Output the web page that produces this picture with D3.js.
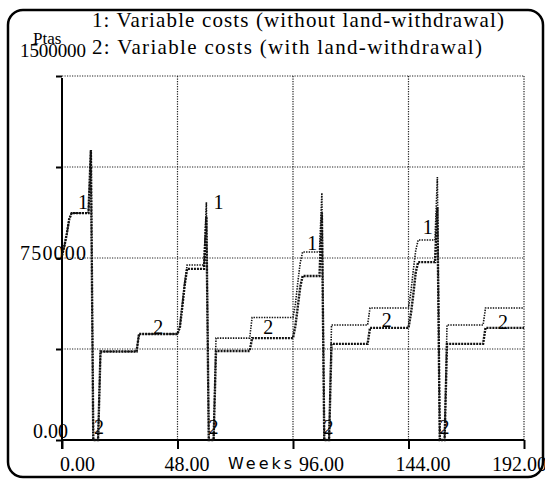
<!DOCTYPE html>
<html>
<head>
<meta charset="utf-8">
<script src="https://cdn.jsdelivr.net/npm/d3@7"></script>
<style>
  body { margin: 0; background: #fff; }
</style>
</head>
<body>
<div id="DataVis"></div>
<script>
// weeks 0..192, one value per week (Ptas)
var weeks = d3.range(0, 193);

var costsWithout = [
  760000, 800000, 850000, 910000, 935000,
  935000, 935000, 935000, 935000, 935000, 935000, 935000,
  1195000, 0, 0, 0,
  365000, 365000, 365000, 365000, 365000, 365000, 365000, 365000,
  365000, 365000, 365000, 365000, 365000, 365000, 365000, 365000,
  437000, 437000, 437000, 437000, 437000, 437000, 437000, 437000, 437000,
  437000, 437000, 437000, 437000, 437000, 437000, 437000, 437000,
  470000, 560000, 650000,
  721000, 721000, 721000, 721000, 721000, 721000, 721000, 721000,
  980000, 0, 0, 0,
  420000, 420000, 420000, 420000, 420000, 420000, 420000, 420000,
  420000, 420000, 420000, 420000, 420000, 420000, 420000,
  505000, 505000, 505000, 505000, 505000, 505000, 505000, 505000, 505000,
  505000, 505000, 505000, 505000, 505000, 505000, 505000, 505000, 505000,
  560000, 650000, 730000,
  775000, 775000, 775000, 775000, 775000, 775000, 775000, 775000,
  1018000, 0, 0, 0,
  474000, 474000, 474000, 474000, 474000, 474000, 474000, 474000,
  474000, 474000, 474000, 474000, 474000, 474000, 474000, 474000,
  544000, 544000, 544000, 544000, 544000, 544000, 544000, 544000, 544000,
  544000, 544000, 544000, 544000, 544000, 544000, 544000, 544000,
  610000, 700000, 780000,
  824000, 824000, 824000, 824000, 824000, 824000, 824000, 824000,
  1084000, 0, 0, 0,
  474000, 474000, 474000, 474000, 474000, 474000, 474000, 474000,
  474000, 474000, 474000, 474000, 474000, 474000, 474000, 474000,
  544000, 544000, 544000, 544000, 544000, 544000, 544000, 544000, 544000,
  544000, 544000, 544000, 544000, 544000, 544000, 544000, 544000
];

var costsWith = [
  760000, 800000, 850000, 910000, 935000,
  935000, 935000, 935000, 935000, 935000, 935000, 935000,
  1195000, 0, 0, 0,
  365000, 365000, 365000, 365000, 365000, 365000, 365000, 365000,
  365000, 365000, 365000, 365000, 365000, 365000, 365000, 365000,
  437000, 437000, 437000, 437000, 437000, 437000, 437000, 437000, 437000,
  437000, 437000, 437000, 437000, 437000, 437000, 437000, 437000,
  465000, 550000, 640000,
  705000, 705000, 705000, 705000, 705000, 705000, 705000, 705000,
  920000, 0, 0, 0,
  367000, 367000, 367000, 367000, 367000, 367000, 367000, 367000,
  367000, 367000, 367000, 367000, 367000, 367000, 367000,
  420000, 420000, 420000, 420000, 420000, 420000, 420000, 420000, 420000,
  420000, 420000, 420000, 420000, 420000, 420000, 420000, 420000, 420000,
  470000, 550000, 630000,
  676000, 676000, 676000, 676000, 676000, 676000, 676000, 676000,
  935000, 0, 0, 0,
  396000, 396000, 396000, 396000, 396000, 396000, 396000, 396000,
  396000, 396000, 396000, 396000, 396000, 396000, 396000, 396000,
  462000, 462000, 462000, 462000, 462000, 462000, 462000, 462000, 462000,
  462000, 462000, 462000, 462000, 462000, 462000, 462000, 462000,
  520000, 600000, 690000,
  733000, 733000, 733000, 733000, 733000, 733000, 733000, 733000,
  960000, 0, 0, 0,
  396000, 396000, 396000, 396000, 396000, 396000, 396000, 396000,
  396000, 396000, 396000, 396000, 396000, 396000, 396000, 396000,
  462000, 462000, 462000, 462000, 462000, 462000, 462000, 462000, 462000,
  462000, 462000, 462000, 462000, 462000, 462000, 462000, 462000
];

var titles = ["1: Variable costs (without land-withdrawal)",
              "2: Variable costs (with land-withdrawal)"];
var unitLabel = "Ptas";
var xLabel = "Weeks";
var xTicks = [0, 48, 96, 144, 192];
var xTickLabels = ["0.00", "48.00", "96.00", "144.00", "192.00"];
var yGrid = [375000, 750000, 1125000, 1500000];
var yTickLabels = ["1500000", "750000", "0.00"];

// curve number tags (week, value at centre of the digit)
var tag1Weeks = [8.7, 65, 104, 152];
var tag1Vals = [981000, 981000, 812000, 878000];
var tag2Weeks = [15.4, 40, 63, 85.7, 110.8, 135, 159, 183.3];
var tag2Vals = [55000, 466000, 55000, 466000, 55000, 494000, 55000, 486000];

var W = 545, H = 480;
var plotL = 62, plotR = 524, plotT = 76, plotB = 440;
var serif = "'Liberation Serif', 'Times New Roman', serif";

var svg = d3.select("#DataVis")
    .append("svg")
    .attr("width", W)
    .attr("height", H)

var x = d3.scaleLinear().domain([0, 192]).range([plotL, plotR]);
var y = d3.scaleLinear().domain([0, 1500000]).range([plotB, plotT]);

// rounded frame
svg.append("rect")
    .attr("x", 8)
    .attr("y", 10)
    .attr("width", 535)
    .attr("height", 467)
    .attr("rx", 15)
    .attr("fill", "none")
    .attr("stroke", "#000")
    .attr("stroke-width", 2.5)

// dotted grid
svg.append("g")
    .selectAll("line")
    .data(yGrid)
    .join("line")
      .attr("x1", plotL)
      .attr("x2", plotR)
      .attr("y1", function(d) { return y(d); })
      .attr("y2", function(d) { return y(d); })
      .attr("stroke", "#222")
      .attr("stroke-width", 1.2)
      .attr("stroke-dasharray", "1.2,1.3")

svg.append("g")
    .selectAll("line")
    .data(xTicks.slice(1))
    .join("line")
      .attr("x1", function(d) { return x(d); })
      .attr("x2", function(d) { return x(d); })
      .attr("y1", plotT)
      .attr("y2", plotB)
      .attr("stroke", "#222")
      .attr("stroke-width", 1.2)
      .attr("stroke-dasharray", "1.2,1.3")

// axes
var xAxis = d3.axisBottom(x).tickValues(xTicks).tickSize(9).tickFormat("");
svg.append("g")
    .attr("transform", "translate(0," + plotB + ")")
    .call(xAxis)
    .call(function(g) { g.select(".domain").attr("stroke-width", 2).attr("d", "M" + (plotL - 1) + ",0H" + plotR); })
    .call(function(g) { g.selectAll(".tick line").attr("stroke-width", 2); })

var yAxis = d3.axisLeft(y).tickValues([0, 375000, 750000, 1125000, 1500000]).tickSize(6).tickFormat("");
svg.append("g")
    .attr("transform", "translate(" + plotL + ",0)")
    .call(yAxis)
    .call(function(g) { g.select(".domain").attr("stroke-width", 2).attr("d", "M0," + (plotT + 2) + "V" + (plotB + 9)); })
    .call(function(g) { g.selectAll(".tick line").attr("stroke-width", 2); })

// x tick labels (placed as in the original, not centred)
var xLabelDx = [-2, -13, 6, -13, -32];
svg.append("g")
    .selectAll("text")
    .data(xTicks)
    .join("text")
      .attr("x", function(d, i) { return x(d) + xLabelDx[i]; })
      .attr("y", 471)
      .attr("font-family", serif)
      .attr("font-size", 20)
      .text(function(d, i) { return xTickLabels[i]; })

svg.append("text")
    .attr("x", 228)
    .attr("y", 469)
    .attr("font-family", "'DejaVu Sans', sans-serif")
    .attr("font-size", 16)
    .attr("textLength", 64)
    .text(xLabel)

// y labels
svg.append("text")
    .attr("x", 20).attr("y", 57)
    .attr("font-family", serif).attr("font-size", 19)
    .attr("textLength", 66)
    .text(yTickLabels[0])
svg.append("text")
    .attr("x", 20).attr("y", 260)
    .attr("font-family", serif).attr("font-size", 20)
    .attr("textLength", 66)
    .text(yTickLabels[1])
svg.append("text")
    .attr("x", 33).attr("y", 438)
    .attr("font-family", serif).attr("font-size", 20)
    .text(yTickLabels[2])
svg.append("text")
    .attr("x", 33).attr("y", 44)
    .attr("font-family", serif).attr("font-size", 17)
    .text(unitLabel)

// legend titles
svg.append("text")
    .attr("x", 92).attr("y", 27)
    .attr("font-family", serif).attr("font-size", 21)
    .attr("textLength", 412)
    .text(titles[0])
svg.append("text")
    .attr("x", 92).attr("y", 54)
    .attr("font-family", serif).attr("font-size", 21)
    .attr("textLength", 390)
    .text(titles[1])

// series
var line = d3.line()
    .x(function(d, i) { return x(weeks[i]); })
    .y(function(d) { return y(d); })

svg.append("path")
    .datum(costsWith)
    .attr("d", line)
    .attr("fill", "none")
    .attr("stroke", "#111")
    .attr("stroke-width", 2.4)
    .attr("stroke-dasharray", "2,1")

svg.append("path")
    .datum(costsWithout)
    .attr("d", line)
    .attr("fill", "none")
    .attr("stroke", "#111")
    .attr("stroke-width", 1.6)
    .attr("stroke-dasharray", "1.4,1.2")

// curve tags
svg.append("g")
    .selectAll("text")
    .data(tag1Weeks)
    .join("text")
      .attr("x", function(d) { return x(d); })
      .attr("y", function(d, i) { return y(tag1Vals[i]); })
      .attr("dy", "0.35em")
      .attr("text-anchor", "middle")
      .attr("font-family", serif)
      .attr("font-size", 20)
      .text("1")

svg.append("g")
    .selectAll("text")
    .data(tag2Weeks)
    .join("text")
      .attr("x", function(d) { return x(d); })
      .attr("y", function(d, i) { return y(tag2Vals[i]); })
      .attr("dy", "0.35em")
      .attr("text-anchor", "middle")
      .attr("font-family", serif)
      .attr("font-size", 20)
      .text("2")
</script>
</body>
</html>
